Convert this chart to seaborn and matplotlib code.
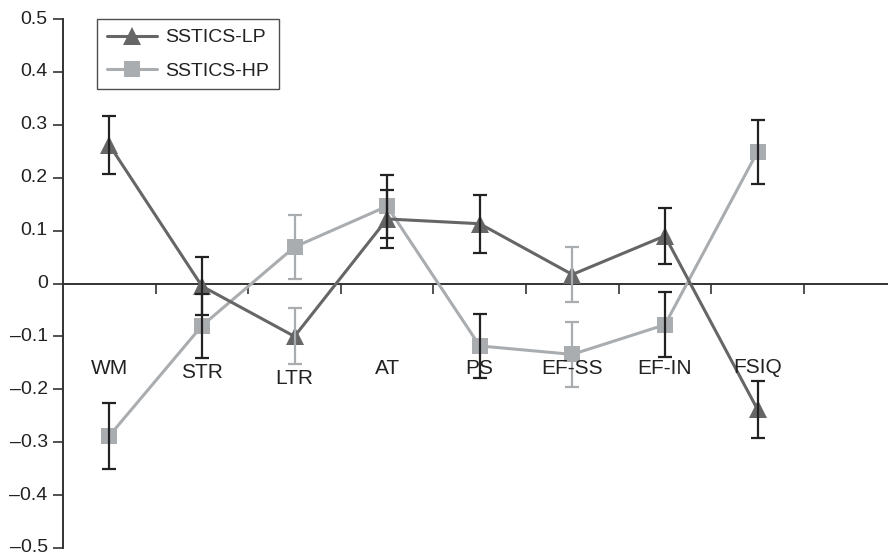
import matplotlib
matplotlib.use("Agg")
import matplotlib.pyplot as plt
import seaborn as sns
import pandas as pd
import numpy as np
from matplotlib.lines import Line2D

categories = ["WM", "STR", "LTR", "AT", "PS", "EF-SS", "EF-IN", "FSIQ"]
lp_mean = [0.262, -0.005, -0.100, 0.122, 0.113, 0.017, 0.090, -0.238]
lp_err = [0.055, 0.055, 0.053, 0.055, 0.055, 0.052, 0.053, 0.054]
hp_mean = [-0.288, -0.080, 0.069, 0.146, -0.118, -0.134, -0.078, 0.249]
hp_err = [0.062, 0.061, 0.061, 0.060, 0.061, 0.061, 0.061, 0.061]
label_y = [-0.16, -0.168, -0.18, -0.16, -0.16, -0.16, -0.16, -0.158]
series_names = ["SSTICS-LP", "SSTICS-HP"]
yticks = [0.5, 0.4, 0.3, 0.2, 0.1, 0, -0.1, -0.2, -0.3, -0.4, -0.5]
light_err_cats = ["LTR", "EF-SS"]

sns.set_theme(style="white")
plt.rcParams["font.family"] = ["Liberation Sans", "DejaVu Sans"]

LP_COLOR = "#666666"
HP_COLOR = "#aaadb0"
ERR_DARK = "#222222"
ERR_LIGHT = "#aaadb0"

xs = list(range(len(categories)))
df = pd.DataFrame({
    "x": xs + xs,
    "value": lp_mean + hp_mean,
    "series": [series_names[0]] * len(xs) + [series_names[1]] * len(xs),
})

fig = plt.figure(figsize=(8.88, 5.55), dpi=100)
ax = fig.add_axes([63 / 888, 1 - 548 / 555, 825 / 888, (548 - 19) / 555])

sns.lineplot(data=df[df.series == series_names[1]], x="x", y="value", ax=ax,
             color=HP_COLOR, lw=2.2, marker="s", markersize=12,
             markeredgewidth=0, legend=False, zorder=3)
sns.lineplot(data=df[df.series == series_names[0]], x="x", y="value", ax=ax,
             color=LP_COLOR, lw=2.2, marker="^", markersize=13,
             markeredgewidth=0, legend=False, zorder=4)

for means, errs in [(lp_mean, lp_err), (hp_mean, hp_err)]:
    for i, cat in enumerate(categories):
        c = ERR_LIGHT if cat in light_err_cats else ERR_DARK
        ax.errorbar([i], [means[i]], yerr=[errs[i]], fmt="none", ecolor=c,
                    elinewidth=1.6, capsize=5, capthick=1.6, zorder=6)

for i, cat in enumerate(categories):
    ax.text(i, label_y[i], cat, ha="center", va="center", fontsize=15,
            color="#222222", zorder=7)

ax.set_xlim(-0.5, -0.5 + 825 / 92.6)
ax.set_ylim(-0.5, 0.5)
ax.set_xlabel("")
ax.set_ylabel("")

ax.spines["top"].set_visible(False)
ax.spines["right"].set_visible(False)
ax.spines["bottom"].set_position(("data", 0))
ax.spines["bottom"].set_color("#333333")
ax.spines["left"].set_color("#333333")
ax.spines["bottom"].set_linewidth(1.4)
ax.spines["left"].set_linewidth(1.4)

ax.set_xticks([k + 0.5 for k in range(len(categories))])
ax.set_xticklabels([])
ax.tick_params(axis="x", direction="out", length=7, width=1.2, color="#333333",
               bottom=True)
ax.set_yticks(yticks)
ax.set_yticklabels([("0" if v == 0 else f"{v:.1f}".replace("-", "\u2013")) for v in yticks])
ax.tick_params(axis="y", direction="out", length=7, width=1.2, color="#333333",
               left=True, labelsize=14, labelcolor="#222222", pad=4)
for lbl in ax.get_yticklabels():
    lbl.set_verticalalignment("center")

handles = [
    Line2D([0], [0], color=LP_COLOR, lw=2.2, marker="^", markersize=13,
           markeredgewidth=0),
    Line2D([0], [0], color=HP_COLOR, lw=2.2, marker="s", markersize=12,
           markeredgewidth=0),
]
leg = ax.legend(handles, series_names, loc="upper left",
                bbox_to_anchor=(34 / 825, 1.0), borderaxespad=0,
                frameon=True, fancybox=False, fontsize=14, handlelength=2.6,
                handletextpad=0.4, borderpad=0.5, labelspacing=0.8)
leg.get_frame().set_edgecolor("#222222")
leg.get_frame().set_linewidth(1.0)
for t in leg.get_texts():
    t.set_color("#222222")

fig.savefig("out.png", dpi=100)
